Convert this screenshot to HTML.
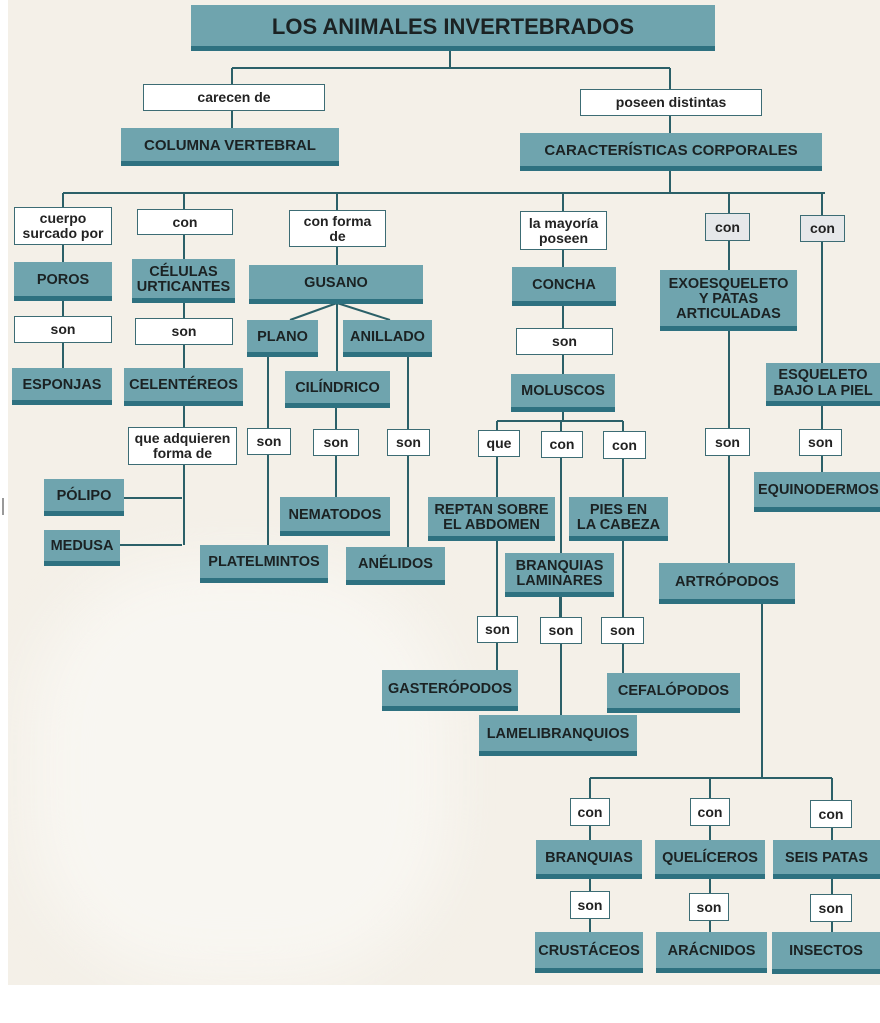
<!DOCTYPE html>
<html><head><meta charset="utf-8"><style>
body{margin:0;width:880px;height:1023px;position:relative;background:#fff;overflow:hidden;font-family:"Liberation Sans",sans-serif;}
#bg{position:absolute;left:8px;top:0;width:872px;height:985px;background:#f4f0e8;overflow:hidden;}
#bg2{position:absolute;left:22px;top:560px;width:420px;height:420px;background:#f8f6f1;border-radius:40%;filter:blur(30px);}
.b{position:absolute;box-sizing:border-box;display:flex;align-items:center;justify-content:center;text-align:center;font-weight:bold;line-height:1.05;color:#1b2223;}
.t{background:#6fa4ae;border-bottom:5px solid #2e7180;font-size:14.5px;padding-top:3px;}
.w{background:#fff;border:1.5px solid #3c6c74;font-size:14px;font-weight:bold;color:#222;}
.g{background:#e6e8ea;}
svg{position:absolute;left:0;top:0;}
</style></head><body>
<div id="bg"><div id="bg2"></div></div>
<svg width="880" height="1023"><g stroke="#2b6068" stroke-width="2" fill="none">
<path d="M450 50V68M232 68H670M232 68V84M670 68V89M232 110V128M670 115V133"/>
<path d="M670 170V193M63 193H825M63 193V207M184 193V209M337 193V210M563 193V211M729 193V213M822 193V215"/>
<path d="M63 244V404M184 234V545M182 498H124M182 545H120"/>
<path d="M337 246V371M337 303L290 320M337 303L390 320M268 356V545M336 407V497M408 356V547"/>
<path d="M563 249V421M497 421H623M497 421V670M561 421V715M623 421V673M560 596V617"/>
<path d="M729 240V563M822 241V472M762 603V778M590 778H832M590 778V798M710 778V798M832 778V800M590 826V932M710 826V932M832 828V932"/>
<path d="M3 498V515" stroke="#333" stroke-width="1"/>
</g></svg>
<div class="b t" style="left:191px;top:5px;width:524px;height:46px;font-size:22px;">LOS ANIMALES INVERTEBRADOS</div>
<div class="b w" style="left:143px;top:84px;width:182px;height:27px;">carecen de</div>
<div class="b t" style="left:121px;top:128px;width:218px;height:38px;font-size:15px;">COLUMNA VERTEBRAL</div>
<div class="b w" style="left:580px;top:89px;width:182px;height:27px;">poseen distintas</div>
<div class="b t" style="left:520px;top:133px;width:302px;height:38px;font-size:15px;">CARACTERÍSTICAS CORPORALES</div>

<div class="b w" style="left:14px;top:207px;width:98px;height:38px;">cuerpo<br>surcado por</div>
<div class="b t" style="left:14px;top:262px;width:98px;height:39px;">POROS</div>
<div class="b w" style="left:14px;top:316px;width:98px;height:27px;">son</div>
<div class="b t" style="left:12px;top:368px;width:100px;height:37px;">ESPONJAS</div>

<div class="b w" style="left:137px;top:209px;width:96px;height:26px;">con</div>
<div class="b t" style="left:132px;top:259px;width:103px;height:44px;">CÉLULAS<br>URTICANTES</div>
<div class="b w" style="left:135px;top:318px;width:98px;height:27px;">son</div>
<div class="b t" style="left:124px;top:368px;width:119px;height:38px;">CELENTÉREOS</div>
<div class="b w" style="left:128px;top:427px;width:109px;height:38px;">que adquieren<br>forma de</div>
<div class="b t" style="left:44px;top:479px;width:80px;height:37px;">PÓLIPO</div>
<div class="b t" style="left:44px;top:530px;width:76px;height:36px;">MEDUSA</div>

<div class="b w" style="left:289px;top:210px;width:97px;height:37px;">con forma<br>de</div>
<div class="b t" style="left:249px;top:265px;width:174px;height:39px;">GUSANO</div>
<div class="b t" style="left:247px;top:320px;width:71px;height:37px;">PLANO</div>
<div class="b t" style="left:343px;top:320px;width:89px;height:37px;">ANILLADO</div>
<div class="b t" style="left:285px;top:371px;width:105px;height:37px;">CILÍNDRICO</div>
<div class="b w" style="left:247px;top:428px;width:44px;height:27px;">son</div>
<div class="b w" style="left:313px;top:429px;width:46px;height:27px;">son</div>
<div class="b w" style="left:387px;top:429px;width:43px;height:27px;">son</div>
<div class="b t" style="left:280px;top:497px;width:110px;height:39px;">NEMATODOS</div>
<div class="b t" style="left:200px;top:545px;width:128px;height:38px;">PLATELMINTOS</div>
<div class="b t" style="left:346px;top:547px;width:99px;height:38px;">ANÉLIDOS</div>

<div class="b w" style="left:520px;top:211px;width:87px;height:39px;">la mayoría<br>poseen</div>
<div class="b t" style="left:512px;top:267px;width:104px;height:39px;">CONCHA</div>
<div class="b w" style="left:516px;top:328px;width:97px;height:27px;">son</div>
<div class="b t" style="left:511px;top:374px;width:104px;height:38px;">MOLUSCOS</div>
<div class="b w" style="left:478px;top:430px;width:42px;height:27px;">que</div>
<div class="b w" style="left:541px;top:431px;width:42px;height:27px;">con</div>
<div class="b w" style="left:603px;top:431px;width:43px;height:28px;">con</div>
<div class="b t" style="left:428px;top:497px;width:127px;height:44px;">REPTAN SOBRE<br>EL ABDOMEN</div>
<div class="b t" style="left:569px;top:497px;width:99px;height:44px;">PIES EN<br>LA CABEZA</div>
<div class="b t" style="left:505px;top:553px;width:109px;height:44px;">BRANQUIAS<br>LAMINARES</div>
<div class="b w" style="left:477px;top:616px;width:41px;height:27px;">son</div>
<div class="b w" style="left:540px;top:617px;width:42px;height:27px;">son</div>
<div class="b w" style="left:601px;top:617px;width:43px;height:27px;">son</div>
<div class="b t" style="left:382px;top:670px;width:136px;height:41px;">GASTERÓPODOS</div>
<div class="b t" style="left:479px;top:715px;width:158px;height:41px;">LAMELIBRANQUIOS</div>
<div class="b t" style="left:607px;top:673px;width:133px;height:40px;">CEFALÓPODOS</div>

<div class="b w g" style="left:705px;top:213px;width:45px;height:28px;">con</div>
<div class="b t" style="left:660px;top:270px;width:137px;height:61px;">EXOESQUELETO<br>Y PATAS<br>ARTICULADAS</div>
<div class="b w" style="left:705px;top:428px;width:45px;height:28px;">son</div>
<div class="b t" style="left:659px;top:563px;width:136px;height:41px;">ARTRÓPODOS</div>

<div class="b w g" style="left:800px;top:215px;width:45px;height:27px;">con</div>
<div class="b t" style="left:766px;top:363px;width:114px;height:43px;">ESQUELETO<br>BAJO LA PIEL</div>
<div class="b w" style="left:799px;top:429px;width:43px;height:27px;">son</div>
<div class="b t" style="left:754px;top:472px;width:126px;height:40px;justify-content:flex-start;padding-left:4px;white-space:nowrap;overflow:hidden;">EQUINODERMOS</div>

<div class="b w" style="left:570px;top:798px;width:40px;height:28px;">con</div>
<div class="b w" style="left:690px;top:798px;width:40px;height:28px;">con</div>
<div class="b w" style="left:810px;top:800px;width:42px;height:28px;">con</div>
<div class="b t" style="left:536px;top:840px;width:106px;height:39px;">BRANQUIAS</div>
<div class="b t" style="left:655px;top:840px;width:110px;height:39px;">QUELÍCEROS</div>
<div class="b t" style="left:773px;top:840px;width:107px;height:39px;">SEIS PATAS</div>
<div class="b w" style="left:570px;top:891px;width:40px;height:28px;">son</div>
<div class="b w" style="left:689px;top:893px;width:40px;height:28px;">son</div>
<div class="b w" style="left:810px;top:894px;width:42px;height:28px;">son</div>
<div class="b t" style="left:535px;top:932px;width:108px;height:41px;">CRUSTÁCEOS</div>
<div class="b t" style="left:656px;top:932px;width:111px;height:41px;">ARÁCNIDOS</div>
<div class="b t" style="left:772px;top:932px;width:108px;height:42px;">INSECTOS</div>
</body></html>
